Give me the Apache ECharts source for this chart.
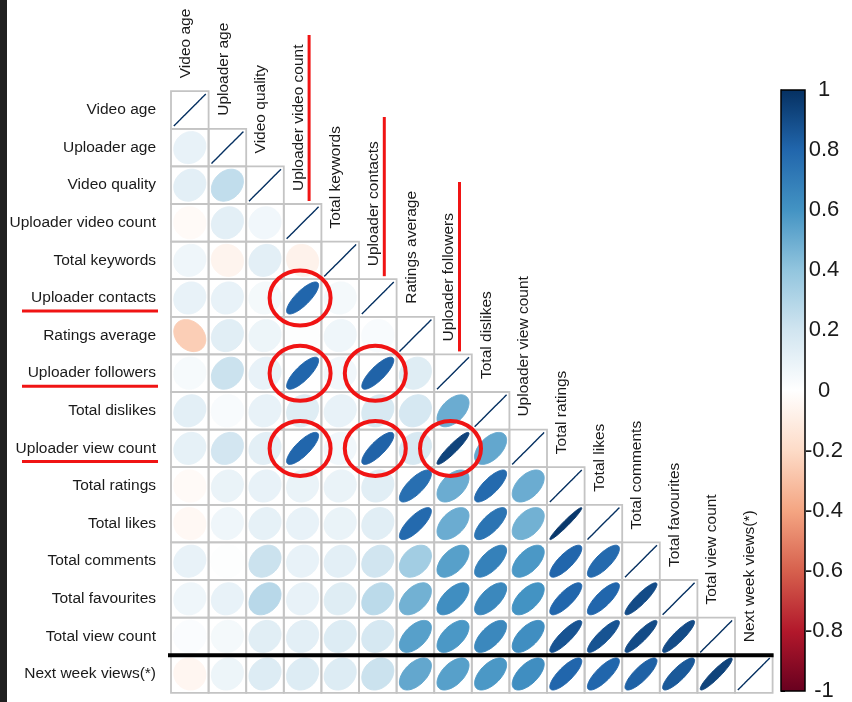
<!DOCTYPE html>
<html>
<head>
<meta charset="utf-8">
<script src="https://cdn.jsdelivr.net/npm/echarts@6/dist/echarts.min.js"></script>
<style>
html, body { margin: 0; padding: 0; background: #fff; }
#main { width: 852px; height: 702px; }
</style>
</head>
<body>
<div id="main"></div>
<script>
// variables, in plot order (top to bottom / left to right)
var labels = ['Video age', 'Uploader age', 'Video quality', 'Uploader video count',
    'Total keywords', 'Uploader contacts', 'Ratings average', 'Uploader followers',
    'Total dislikes', 'Uploader view count', 'Total ratings', 'Total likes',
    'Total comments', 'Total favourites', 'Total view count', 'Next week views(*)'];

// lower triangle of the correlation matrix, one row per variable
var corrLower = [
    [1],
    [0.10, 1],
    [0.12, 0.25, 1],
    [-0.03, 0.12, 0.06, 1],
    [0.07, -0.06, 0.12, -0.07, 1],
    [0.10, 0.10, 0.05, 0.80, 0.05, 1],
    [-0.25, 0.13, 0.08, 0.01, 0.07, 0.03, 1],
    [0.04, 0.22, 0.10, 0.80, 0.06, 0.81, 0.14, 1],
    [0.12, 0.03, 0.10, 0.14, 0.10, 0.17, 0.18, 0.50, 1],
    [0.11, 0.19, 0.12, 0.80, 0.06, 0.81, 0.17, 0.93, 0.52, 1],
    [-0.03, 0.09, 0.10, 0.09, 0.09, 0.13, 0.76, 0.50, 0.78, 0.50, 1],
    [-0.04, 0.07, 0.11, 0.10, 0.09, 0.13, 0.78, 0.50, 0.74, 0.48, 0.97, 1],
    [0.10, 0.01, 0.22, 0.10, 0.12, 0.20, 0.35, 0.55, 0.68, 0.58, 0.80, 0.78, 1],
    [0.07, 0.10, 0.28, 0.10, 0.14, 0.27, 0.48, 0.62, 0.65, 0.60, 0.80, 0.80, 0.90, 1],
    [0.02, 0.05, 0.13, 0.12, 0.15, 0.18, 0.55, 0.58, 0.65, 0.62, 0.87, 0.87, 0.90, 0.90, 1],
    [-0.05, 0.08, 0.15, 0.15, 0.15, 0.22, 0.52, 0.55, 0.58, 0.62, 0.80, 0.80, 0.82, 0.85, 0.93, 1]
];

// colour legend ticks
var legendTicks = [-1, -0.8, -0.6, -0.4, -0.2, 0, 0.2, 0.4, 0.6, 0.8, 1];

// corrplot RdBu
var palette = ['#67001F', '#B2182B', '#D6604D', '#F4A582', '#FDDBC7', '#FFFFFF',
    '#D1E5F0', '#92C5DE', '#4393C3', '#2166AC', '#053061'];

// highlighted cells [col, row] and highlighted variables
var circled = [[3, 5], [3, 7], [5, 7], [3, 9], [5, 9], [7, 9]];
var underlinedRows = [5, 7, 9];
var markedCols = [[3, 35], [5, 117], [7, 182]];

var FONT = '"Liberation Sans", Arial, sans-serif';

var cellData = [];
corrLower.forEach(function(row, i) {
    row.forEach(function(r, j) {
        cellData.push([j, i, r]);
    });
});
var diagData = labels.map(function(name, i) {
    return [i, i];
});

// ellipse like corrplot: x = cos(t + acos(r)/2)/2, y = cos(t - acos(r)/2)/2
function renderCell(params, api) {
    var c = api.coord([api.value(0), api.value(1)]);
    var s = api.size([1, 1]);
    var w = s[0], h = s[1];
    var r = api.value(2);
    var color = api.visual('color');
    var a = Math.acos(Math.max(-1, Math.min(1, r))) / 2;
    var pts = [];
    for (var k = 0; k < 80; k++) {
        var t = k / 80 * Math.PI * 2;
        pts.push([c[0] + 0.85 * w * Math.cos(t + a) / 2,
                  c[1] - 0.85 * h * Math.cos(t - a) / 2]);
    }
    return {
        type: 'group',
        children: [{
            type: 'rect',
            shape: { x: c[0] - w / 2, y: c[1] - h / 2, width: w, height: h },
            style: { fill: 'none', stroke: '#c4c4c4', lineWidth: 1.8 }
        }, {
            type: 'polygon',
            shape: { points: pts },
            style: { fill: color, stroke: color, lineWidth: r > 0.999 ? 1.4 : 1 }
        }]
    };
}

function renderDiagLabel(params, api) {
    var c = api.coord([api.value(0), api.value(1)]);
    var s = api.size([1, 1]);
    return {
        type: 'text',
        x: c[0] - 4,
        y: c[1] - s[1] / 2 - 13,
        rotation: Math.PI / 2,
        style: {
            text: labels[api.value(0)],
            fill: '#1a1a1a',
            fontSize: 15.5,
            fontFamily: FONT,
            align: 'left',
            verticalAlign: 'middle'
        }
    };
}

function renderLegendBar(params, api) {
    var p1 = api.coord([0, 1]);
    var p2 = api.coord([1, -1]);
    var stops = palette.slice().reverse().map(function(col, i) {
        return { offset: i / (palette.length - 1), color: col };
    });
    return {
        type: 'rect',
        shape: { x: p1[0], y: p1[1], width: p2[0] - p1[0], height: p2[1] - p1[1] },
        style: {
            fill: new echarts.graphic.LinearGradient(0, 0, 0, 1, stops),
            stroke: '#000',
            lineWidth: 1.5
        }
    };
}

var myChart = echarts.init(document.getElementById('main'));

var option = {
    backgroundColor: '#fff',
    animation: false,
    grid: [
        { left: 171, top: 91.2, width: 601.6, height: 601.6 },
        { left: 781, top: 90, width: 24, height: 603 }
    ],
    xAxis: [{
        gridIndex: 0,
        type: 'category',
        data: labels,
        show: false
    }, {
        gridIndex: 1,
        type: 'value',
        min: 0,
        max: 1,
        show: false
    }],
    yAxis: [{
        gridIndex: 0,
        type: 'category',
        data: labels,
        inverse: true,
        axisLine: { show: false },
        axisTick: { show: false },
        splitLine: { show: false },
        axisLabel: {
            color: '#1a1a1a',
            fontSize: 15.5,
            fontFamily: FONT,
            margin: 15
        }
    }, {
        gridIndex: 1,
        type: 'value',
        position: 'right',
        min: -1,
        max: 1,
        interval: 0.2,
        axisLine: { show: true, lineStyle: { color: '#000', width: 1 } },
        axisTick: { show: true, length: 4, lineStyle: { color: '#000', width: 1 } },
        splitLine: { show: false },
        axisLabel: {
            color: '#1a1a1a',
            fontSize: 22,
            fontFamily: FONT,
            align: 'center',
            margin: 19,
            formatter: function(v) {
                var t = legendTicks.filter(function(x) { return Math.abs(x - v) < 1e-6; })[0];
                return t === undefined ? '' : String(t);
            }
        }
    }],
    visualMap: {
        show: false,
        type: 'continuous',
        min: -1,
        max: 1,
        dimension: 2,
        seriesIndex: 0,
        inRange: { color: palette }
    },
    series: [{
        name: 'corr',
        type: 'custom',
        xAxisIndex: 0,
        yAxisIndex: 0,
        renderItem: renderCell,
        data: cellData
    }, {
        name: 'diagLabels',
        type: 'custom',
        xAxisIndex: 0,
        yAxisIndex: 0,
        renderItem: renderDiagLabel,
        data: diagData,
        clip: false
    }, {
        name: 'legend',
        type: 'custom',
        xAxisIndex: 1,
        yAxisIndex: 1,
        renderItem: renderLegendBar,
        data: [[0, -1]]
    }]
};

myChart.setOption(option);

// annotations (separator line, red highlights) placed from the grid's own coordinates
var cellPx = function(col, row) {
    return myChart.convertToPixel({ xAxisIndex: 0, yAxisIndex: 0 }, [col, row]);
};
var p00 = cellPx(0, 0), p11 = cellPx(1, 1);
var cw = p11[0] - p00[0], ch = p11[1] - p00[1];
var last = labels.length - 1;
var graphics = [];

graphics.push({
    type: 'rect',
    shape: { x: 0, y: 0, width: 7, height: 702 },
    style: { fill: '#202020' }
});

var sepY = cellPx(0, last)[1] - ch / 2;
graphics.push({
    type: 'line',
    z: 100,
    shape: { x1: p00[0] - cw / 2 - 3, y1: sepY, x2: cellPx(last, last)[0] + cw / 2 + 1, y2: sepY },
    style: { stroke: '#000', lineWidth: 4 }
});

circled.forEach(function(cr) {
    var p = cellPx(cr[0], cr[1]);
    graphics.push({
        type: 'ellipse',
        z: 100,
        shape: { cx: p[0] - 2.5, cy: p[1], rx: 30.5, ry: 27.5 },
        style: { fill: 'none', stroke: '#f01414', lineWidth: 4 }
    });
});

underlinedRows.forEach(function(row) {
    var y = cellPx(0, row)[1] + 13;
    graphics.push({
        type: 'line',
        z: 100,
        shape: { x1: 22, y1: y, x2: 158, y2: y },
        style: { stroke: '#f01414', lineWidth: 3 }
    });
});

markedCols.forEach(function(mc) {
    var p = cellPx(mc[0], mc[0]);
    var x = p[0] + 6.5;
    graphics.push({
        type: 'line',
        z: 100,
        shape: { x1: x, y1: mc[1], x2: x, y2: p[1] - ch / 2 - 3 },
        style: { stroke: '#f01414', lineWidth: 3 }
    });
});

myChart.setOption({ graphic: graphics });
</script>
</body>
</html>
